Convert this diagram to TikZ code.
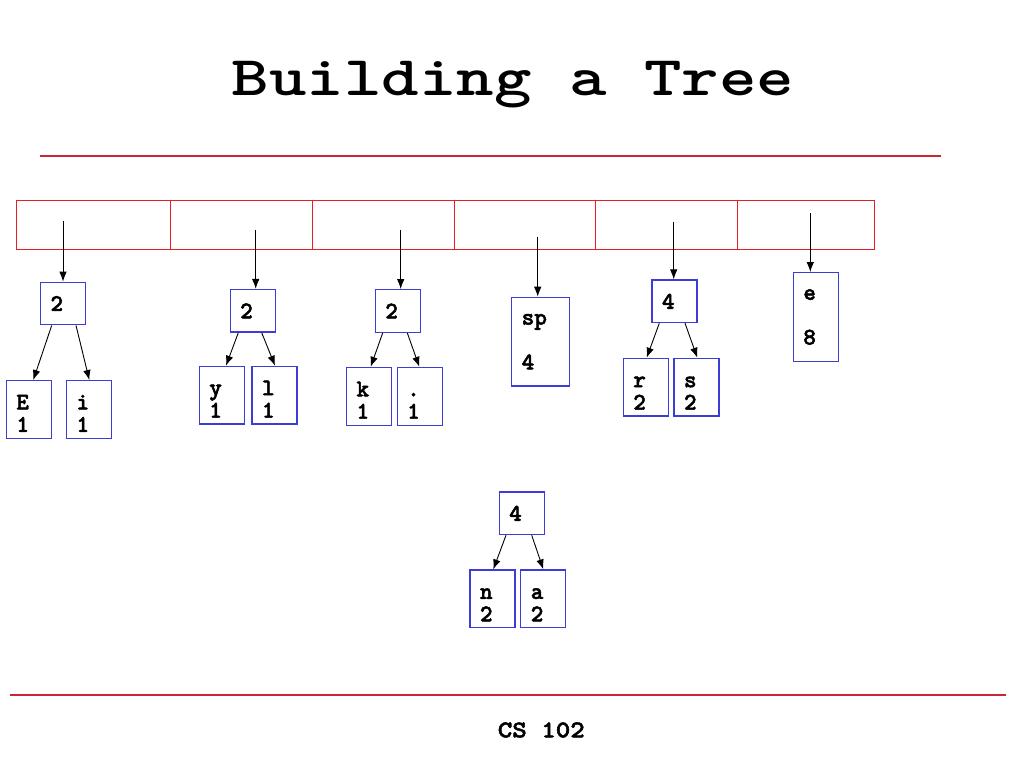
\documentclass[tikz,border=0pt]{standalone}
\usepackage{fontspec}
\newfontfamily\courfont{lmmonolt10-bold.otf}[FakeBold=2]
\usepackage{tikz}
\usetikzlibrary{arrows.meta}

\definecolor{rulered}{RGB}{205,35,55}
\definecolor{cellred}{RGB}{228,30,36}
\definecolor{nodeblue}{RGB}{60,60,215}

\newcommand{\boxfont}{\courfont\fontsize{24}{22.4}\selectfont}

\tikzset{
  inbox/.style={draw=nodeblue, line width=1.3pt, minimum width=45pt,
    minimum height=42.5pt, text width=25pt, inner xsep=10pt, inner ysep=0pt,
    align=left, font=\boxfont},
  leafbox/.style={inbox, minimum height=57.7pt,
    execute at begin node={\rule{0pt}{22.4pt}}},
  tallbox/.style={inbox, minimum height=88.7pt},
  arr/.style={-{Latex[length=10pt,width=7.5pt]}, line width=0.9pt},
  cellline/.style={draw=cellred, line width=1pt},
}

\begin{document}
\begin{tikzpicture}[x=1pt, y=-1pt]
\useasboundingbox (0,0) rectangle (1024,768);

\node[font=\ttfamily\bfseries\fontsize{56}{56}\selectfont, anchor=base] (title) at (513,95.7) {\scalebox{1.275}[1]{Building a Tree}};
\draw[rulered, line width=1.1pt] (40,156) -- (941,156);

% the array of trees
\draw[cellline] (16.7,200) rectangle (874.5,249.3);
\foreach \x in {170.7,312.7,454,595.7,737}
  \draw[cellline] (\x,200) -- (\x,249.3);

\coordinate (a1) at (63,221);
\coordinate (a2) at (255.7,230);
\coordinate (a3) at (400.7,230);
\coordinate (a4) at (537.7,236.7);
\coordinate (a5) at (673.7,221.7);
\coordinate (a6) at (810.3,213.3);

\begin{scope}[shift={(63,303.5)}]
\node[inbox](onode) at (0,0) {2};
\node[leafbox](Enode) at (-34.1,106) {E\\1};
\node[leafbox](inode) at (26,106) {i\\1};
\end{scope}

\begin{scope}[shift={(252.7,310.8)}]
\node[inbox](tnode) at (0,0) {2};
\node[leafbox](ynode) at (-30.9,84.4) {y\\1};
\node[leafbox](lnode) at (21.8,84.4) {l\\1};
\end{scope}

\begin{scope}[shift={(397.8,311)}]
\node[inbox](hnode) at (0,0) {2};
\node[leafbox](knode) at (-28.8,85.3) {k\\1};
\node[leafbox](dnode) at (21.9,85.3) {.\\1};
\end{scope}

\node[tallbox, minimum width=57.6pt, text width=37.6pt](spnode) at (540.5,341.7) {sp\\[22.4pt]4};

\begin{scope}[shift={(674.5,301.3)}]
\node[inbox](fnode) at (0,0) {4};
\node[leafbox](rnode) at (-28.7,85.9) {r\\2};
\node[leafbox](snode) at (22,85.9) {s\\2};
\end{scope}

\node[tallbox](enode) at (815.8,317) {e\\[22.4pt]8};

\begin{scope}[shift={(521.7,513.3)}]
\node[inbox](bnode) at (0,0) {4};
\node[leafbox](nnode) at (-29.2,85.6) {n\\2};
\node[leafbox](anode) at (21.6,85.6) {a\\2};
\end{scope}

\draw[arr] (a1) -- (a1 |- onode.north);
\draw[arr] (a2) -- (a2 |- tnode.north);
\draw[arr] (a3) -- (a3 |- hnode.north);
\draw[arr] (a4) -- (a4 |- spnode.north);
\draw[arr] (a5) -- (a5 |- fnode.north);
\draw[arr] (a6) -- (a6 |- enode.north);

\draw[arr] ([xshift=-11.3pt]onode.south) -- ([xshift=4.4pt]Enode.north);
\draw[arr] ([xshift=13pt]onode.south) -- ([xshift=0.3pt]inode.north);
\draw[arr] ([xshift=-14.4pt]tnode.south) -- ([xshift=4.2pt]ynode.north);
\draw[arr] ([xshift=9pt]tnode.south) -- ([xshift=0.5pt]lnode.north);
\draw[arr] ([xshift=-15.1pt]hnode.south) -- ([xshift=1.7pt]knode.north);
\draw[arr] ([xshift=9.5pt]hnode.south) -- ([xshift=-0.4pt]dnode.north);
\draw[arr] ([xshift=-15.2pt]fnode.south) -- ([xshift=0.9pt]rnode.north);
\draw[arr] ([xshift=10.5pt]fnode.south) -- ([xshift=0.8pt]snode.north);
\draw[arr] ([xshift=-15.7pt]bnode.south) -- ([xshift=0.8pt]nnode.north);
\draw[arr] ([xshift=10pt]bnode.south) -- (anode.north);

\draw[rulered, line width=1.1pt] (10,695) -- (1006,695);
\node[font=\courfont\fontsize{24}{24}\selectfont, anchor=base] (footer) at (541.3,737.3) {\scalebox{1.15}[1]{CS 102}};

\end{tikzpicture}
\end{document}
